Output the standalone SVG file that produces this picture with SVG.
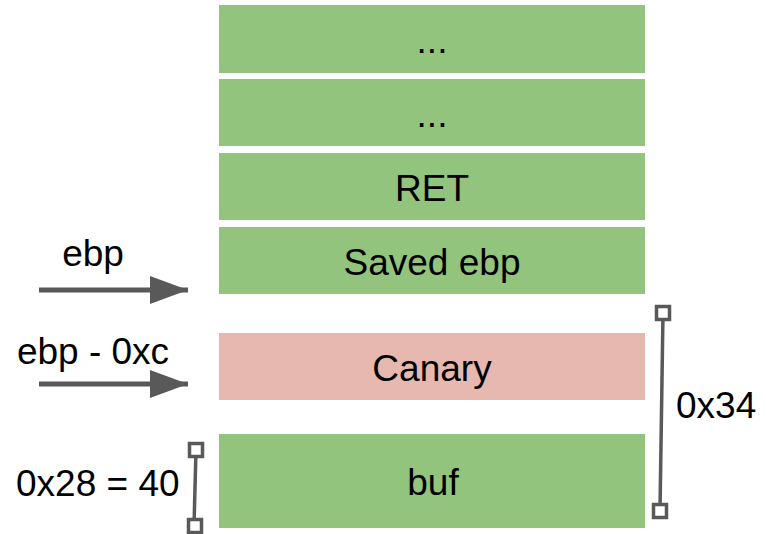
<svg xmlns="http://www.w3.org/2000/svg" width="766" height="534" viewBox="0 0 766 534">
<defs>
<style>
.g{fill:#93c47d}
.r{fill:#e6b8af}
.t{font-family:"Liberation Sans",Arial,sans-serif;font-size:37px;fill:#000}
.m{text-anchor:middle}
.a{stroke:#595959;stroke-width:5;fill:none}
.b{stroke:#595959;stroke-width:3.5;fill:none}
.s{stroke:#595959;stroke-width:3.5;fill:#fff}
</style>
<marker id="ah" markerUnits="userSpaceOnUse" markerWidth="40" markerHeight="30" refX="38" refY="14" orient="auto">
<path d="M0,0 L38,14 L0,28 Z" fill="#595959"/>
</marker>
</defs>
<g id="n1"><rect class="g" x="219" y="5" width="426" height="68"/><text class="t m" x="432" y="53">...</text></g>
<g id="n2"><rect class="g" x="219" y="79" width="426" height="67"/><text class="t m" x="432" y="127">...</text></g>
<g id="n3"><rect class="g" x="219" y="153" width="426" height="67"/><text class="t m" x="432" y="201">RET</text></g>
<g id="n4"><rect class="g" x="219" y="227" width="426" height="67"/><text class="t m" x="432" y="275">Saved ebp</text></g>
<g id="n5"><rect class="r" x="219" y="333" width="426" height="67"/><text class="t m" x="432" y="381">Canary</text></g>
<g id="n6"><rect class="g" x="219" y="434" width="426" height="94"/><text class="t m" x="433" y="495">buf</text></g>
<g id="l1"><text class="t m" x="93" y="266">ebp</text></g>
<g id="l2"><text class="t m" x="93" y="364">ebp - 0xc</text></g>
<g id="l3"><text class="t" x="676" y="418">0x34</text></g>
<g id="l4"><text class="t" x="16" y="496">0x28 = 40</text></g>
<g id="connectors">
<line class="a" x1="39" y1="290" x2="188" y2="290" marker-end="url(#ah)"/>
<line class="a" x1="39" y1="384" x2="188" y2="384" marker-end="url(#ah)"/>
<line class="b" x1="663" y1="313" x2="660" y2="511"/>
<rect class="s" x="656.5" y="306.5" width="13" height="13"/>
<rect class="s" x="653.5" y="504.5" width="13" height="13"/>
<line class="b" x1="196" y1="450" x2="194" y2="526"/>
<rect class="s" x="189.5" y="443.5" width="13" height="13"/>
<rect class="s" x="188.5" y="519.5" width="13" height="13"/>
</g>
</svg>
